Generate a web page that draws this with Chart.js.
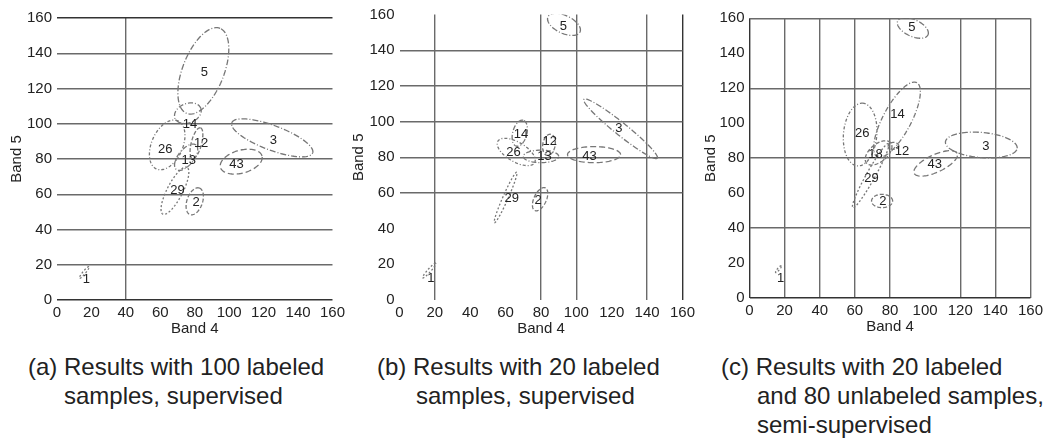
<!DOCTYPE html>
<html>
<head>
<meta charset="utf-8">
<script src="https://cdn.jsdelivr.net/npm/chart.js@4/dist/chart.umd.min.js"></script>
<style>
  body { margin: 0; background: #fff; width: 1047px; height: 438px; overflow: hidden; position: relative; }
  canvas { position: absolute; top: 0; }
  .caption { position: absolute; font-family: "Liberation Sans", Arial, sans-serif; font-size: 24px; line-height: 29px; color: #222; white-space: nowrap; }
  .caption div.ind { padding-left: 36px; }
</style>
</head>
<body>
<canvas id="chartA" width="341" height="340" style="left:8px"></canvas>
<canvas id="chartB" width="349" height="340" style="left:350px"></canvas>
<canvas id="chartC" width="345" height="338" style="left:702px"></canvas>

<div class="caption" style="left:28px; top:352px"><div>(a) Results with 100 labeled</div><div class="ind">samples, supervised</div></div>
<div class="caption" style="left:377px; top:352px"><div>(b) Results with 20 labeled</div><div class="ind" style="padding-left:39px">samples, supervised</div></div>
<div class="caption" style="left:721px; top:352px"><div>(c) Results with 20 labeled</div><div class="ind">and 80 unlabeled samples,</div><div class="ind">semi-supervised</div></div>

<script>
// axis ticks (same for every panel)
var tickValues = [0, 20, 40, 60, 80, 100, 120, 140, 160];

// grid lines drawn in each panel
var gridXA = [40];
var gridYA = [0, 20, 40, 60, 80, 100, 120, 140, 160];
var gridXB = [20, 80, 100, 140, 160];
var gridYB = [60, 80, 100, 120, 140];
var gridXC = [0, 20, 40, 60, 80, 120, 140, 160];
var gridYC = [0, 40, 80, 120, 160];

// class ellipses: label, centre band4, centre band5, semi-major, semi-minor, angle (deg), label band4, label band5
var ellipsesA = [
    ['1', 15.8, 15.6, 4.3, 0.8, 50, 17, 11.5],
    ['2', 80, 56, 8, 4.5, 70, 80.8, 55.4],
    ['3', 125, 92, 25, 7, -20, 125.6, 90.4],
    ['5', 85, 130, 26, 12, 68, 85.6, 129],
    ['12', 81, 89, 9, 3, 75, 83.7, 88.8],
    ['13', 75, 81, 9, 4.5, 50, 76.5, 79.4],
    ['14', 76, 106, 8, 5.5, 20, 77.3, 99.6],
    ['26', 64, 88, 15, 9, 65, 62.8, 85.4],
    ['29', 68.5, 62, 15, 4.5, 62, 70, 62.4],
    ['43', 107, 78.5, 12.5, 6.5, 15, 104.3, 77]
];
var ellipsesB = [
    ['1', 16.8, 16.5, 5.5, 0.9, 48, 17.7, 12.3],
    ['2', 79.5, 56.5, 7, 3.5, 65, 78.4, 56],
    ['3', 125, 96, 26.5, 3.5, -38.5, 124, 96],
    ['5', 93, 154.5, 10, 5, -25, 92.6, 153.3],
    ['12', 84.5, 87, 6, 3.5, 80, 85, 89],
    ['13', 80, 80.5, 10, 3.5, 0, 82, 80.3],
    ['14', 68, 93.5, 7.5, 4, 75, 68.7, 93],
    ['26', 66, 83, 12, 5.5, -30, 64.4, 83],
    ['29', 60, 57.5, 15.5, 1.5, 66, 63.5, 57],
    ['43', 110, 81.5, 15, 4.5, 0, 107.4, 80.3]
];
var ellipsesC = [
    ['1', 16.5, 16.5, 2.5, 0.6, 50, 17.7, 11.4],
    ['2', 75.5, 55.5, 6, 3.8, 0, 76, 55.2],
    ['3', 132, 87.5, 20.5, 7.2, -5, 134.6, 86.7],
    ['5', 93, 154.5, 9.5, 4.8, -25, 92.4, 155],
    ['12', 82, 87, 3, 2, 0, 86.8, 83.8],
    ['14', 84, 102, 24, 8, 62, 84.3, 104.8],
    ['18', 73.5, 83, 9, 5, 40, 71.7, 82.3],
    ['26', 63, 93.5, 18, 9.5, 85, 64.2, 94],
    ['29', 69, 70, 21, 2.5, 61, 69.5, 68.6],
    ['43', 106, 77, 13.5, 5, 25, 105.5, 76.2]
];

// line style per class
var dashes = {
    '1': [2, 2], '2': [4, 2], '3': [6, 2, 1, 2], '5': [6, 2, 1, 2],
    '12': [4, 2], '13': [5, 2, 1, 2], '14': [5, 2, 1, 2], '18': [4, 2],
    '26': [3, 2, 1, 2], '29': [2, 2], '43': [6, 3]
};

var FONT = '"Liberation Sans", Arial, sans-serif';

function outline(e) {
    var t = e[5] * Math.PI / 180;
    var pts = [];
    for (var k = 0; k <= 90; k++) {
        var u = k / 90 * 2 * Math.PI;
        pts.push({
            x: e[1] + e[3] * Math.cos(u) * Math.cos(t) - e[4] * Math.sin(u) * Math.sin(t),
            y: e[2] + e[3] * Math.cos(u) * Math.sin(t) + e[4] * Math.sin(u) * Math.cos(t)
        });
    }
    return pts;
}

var classLabels = {
    id: 'classLabels',
    afterDatasetsDraw: function (chart) {
        var c = chart.ctx;
        var list = chart.options.plugins.classLabels.list;
        c.save();
        c.font = '13px ' + FONT;
        c.fillStyle = '#222';
        c.textAlign = 'center';
        c.textBaseline = 'middle';
        list.forEach(function (e) {
            c.fillText(e[0], chart.scales.x.getPixelForValue(e[6]), chart.scales.y.getPixelForValue(e[7]));
        });
        c.restore();
    }
};

function makeChart(id, ellipses, gridX, gridY, yWidth, padTop, darkX, darkY) {
    var datasets = ellipses.map(function (e) {
        return {
            label: e[0],
            data: outline(e),
            showLine: true,
            pointRadius: 0,
            borderColor: '#777',
            borderWidth: 1.3,
            borderDash: dashes[e[0]],
            fill: false,
            tension: 0
        };
    });
    function gridColor(list, dark) {
        return function (ctx) {
            var v = ctx.tick ? ctx.tick.value : null;
            if (list.indexOf(v) < 0) return 'rgba(0,0,0,0)';
            return dark.indexOf(v) >= 0 ? '#333' : '#6a6a6a';
        };
    }
    return new Chart(document.getElementById(id), {
        type: 'scatter',
        data: { datasets: datasets },
        options: {
            responsive: false,
            animation: false,
            layout: { padding: { top: padTop, right: 14, left: 0, bottom: 0 } },
            plugins: { legend: { display: false }, tooltip: { enabled: false }, classLabels: { list: ellipses } },
            scales: {
                x: {
                    type: 'linear', min: 0, max: 160,
                    afterBuildTicks: function (s) { s.ticks = tickValues.map(function (v) { return { value: v }; }); },
                    afterFit: function (s) { s.height = 40; },
                    border: { display: false },
                    grid: { color: gridColor(gridX, darkX), lineWidth: 1.4, drawTicks: false },
                    ticks: { autoSkip: false, maxRotation: 0, padding: 4, color: '#222', font: { family: FONT, size: 15 } },
                    title: { display: true, text: 'Band 4', color: '#222', padding: { top: 0, bottom: 2 }, font: { family: FONT, size: 15 } }
                },
                y: {
                    type: 'linear', min: 0, max: 160,
                    afterBuildTicks: function (s) { s.ticks = tickValues.map(function (v) { return { value: v }; }); },
                    afterFit: function (s) { s.width = yWidth; },
                    border: { display: false },
                    grid: { color: gridColor(gridY, darkY), lineWidth: 1.4, drawTicks: false },
                    ticks: { autoSkip: false, padding: 5, color: '#222', font: { family: FONT, size: 15 } },
                    title: { display: true, text: 'Band 5', color: '#222', padding: 0, font: { family: FONT, size: 15 } }
                }
            }
        },
        plugins: [classLabels]
    });
}

makeChart('chartA', ellipsesA, gridXA, gridYA, 49, 18, [], [0, 160]);
makeChart('chartB', ellipsesB, gridXB, gridYB, 49.5, 14.6, [160], []);
makeChart('chartC', ellipsesC, gridXC, gridYC, 47.5, 18.3, [0], [0]);
</script>
</body>
</html>
